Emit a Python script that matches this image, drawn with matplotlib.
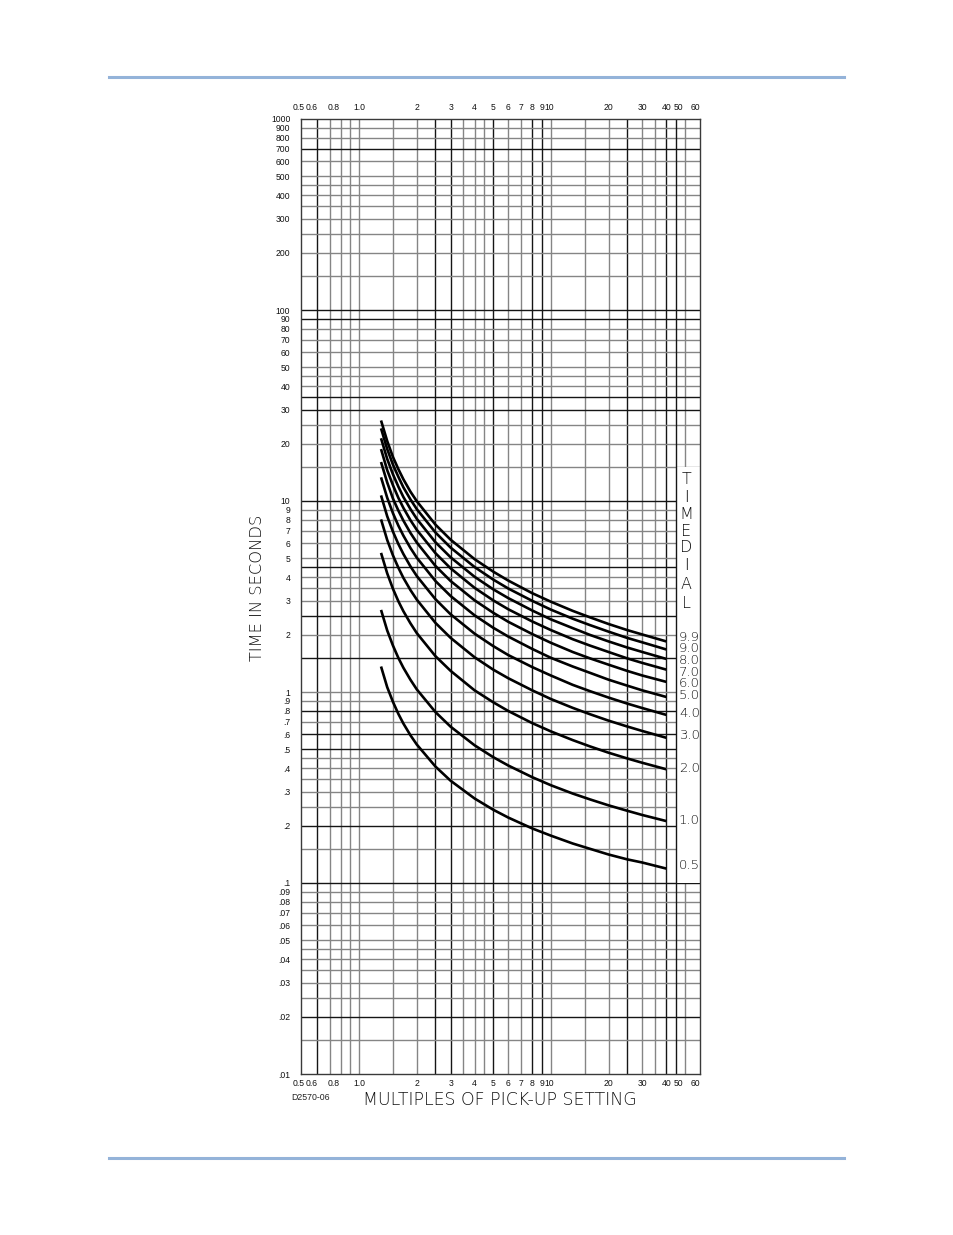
import matplotlib
matplotlib.use("Agg")
import matplotlib.pyplot as plt
from matplotlib.patches import Rectangle
from matplotlib.lines import Line2D
from matplotlib.transforms import offset_copy
from matplotlib.ticker import NullLocator

# ---------------- data ----------------
multiples = [1.3, 1.4, 1.5, 1.6, 1.7, 1.85, 2, 2.5, 3, 4, 5, 6, 8, 10, 13, 16, 20, 25, 30, 40]

td_9_9 = [26.4, 20.6, 17.0, 14.7, 13.0, 11.2, 9.96, 7.52, 6.27, 4.96, 4.27, 3.83, 3.29, 2.97, 2.66, 2.46, 2.27, 2.11, 2.00, 1.84]
td_9_0 = [24.0, 18.7, 15.5, 13.4, 11.8, 10.2, 9.05, 6.84, 5.70, 4.51, 3.88, 3.48, 3.00, 2.70, 2.42, 2.24, 2.07, 1.92, 1.82, 1.67]
td_8_0 = [21.3, 16.6, 13.8, 11.9, 10.5, 9.08, 8.05, 6.08, 5.07, 4.01, 3.45, 3.10, 2.67, 2.40, 2.16, 1.99, 1.84, 1.71, 1.62, 1.49]
td_7_0 = [18.7, 14.5, 12.1, 10.4, 9.21, 7.94, 7.05, 5.33, 4.44, 3.51, 3.02, 2.71, 2.34, 2.11, 1.89, 1.75, 1.62, 1.50, 1.42, 1.31]
td_6_0 = [16.0, 12.5, 10.3, 8.92, 7.90, 6.81, 6.05, 4.57, 3.81, 3.02, 2.60, 2.33, 2.01, 1.81, 1.62, 1.50, 1.39, 1.29, 1.22, 1.13]
td_5_0 = [13.3, 10.4, 8.63, 7.44, 6.59, 5.68, 5.04, 3.81, 3.18, 2.52, 2.17, 1.95, 1.68, 1.51, 1.36, 1.26, 1.16, 1.08, 1.02, 0.942]
td_4_0 = [10.7, 8.32, 6.91, 5.96, 5.28, 4.55, 4.04, 3.06, 2.55, 2.02, 1.74, 1.56, 1.35, 1.22, 1.09, 1.01, 0.935, 0.870, 0.824, 0.759]
td_3_0 = [8.01, 6.25, 5.19, 4.48, 3.96, 3.42, 3.04, 2.30, 1.92, 1.52, 1.31, 1.18, 1.02, 0.919, 0.826, 0.765, 0.708, 0.660, 0.625, 0.576]
td_2_0 = [5.35, 4.18, 3.47, 2.99, 2.65, 2.29, 2.03, 1.54, 1.29, 1.02, 0.884, 0.795, 0.687, 0.622, 0.560, 0.519, 0.481, 0.449, 0.426, 0.394]
td_1_0 = [2.69, 2.10, 1.75, 1.51, 1.34, 1.16, 1.03, 0.785, 0.658, 0.526, 0.456, 0.412, 0.358, 0.325, 0.294, 0.274, 0.255, 0.239, 0.227, 0.211]
td_0_5 = [1.36, 1.06, 0.888, 0.769, 0.684, 0.594, 0.530, 0.407, 0.343, 0.277, 0.242, 0.220, 0.193, 0.177, 0.161, 0.151, 0.141, 0.133, 0.128, 0.119]

curves = [td_9_9, td_9_0, td_8_0, td_7_0, td_6_0, td_5_0, td_4_0, td_3_0, td_2_0, td_1_0, td_0_5]
dial_labels = ["9.9", "9.0", "8.0", "7.0", "6.0", "5.0", "4.0", "3.0", "2.0", "1.0", "0.5"]

x_tick_values = [0.5, 0.6, 0.8, 1.0, 2, 3, 4, 5, 6, 7, 8, 9, 10, 20, 30, 40, 50, 60]
x_tick_labels = ["0.5", "0.6", "0.8", "1.0", "2", "3", "4", "5", "6", "7", "8", "9", "10",
                 "20", "30", "40", "50", "60"]

y_tick_values = [1000, 900, 800, 700, 600, 500, 400, 300, 200,
                 100, 90, 80, 70, 60, 50, 40, 30, 20,
                 10, 9, 8, 7, 6, 5, 4, 3, 2,
                 1, 0.9, 0.8, 0.7, 0.6, 0.5, 0.4, 0.3, 0.2,
                 0.1, 0.09, 0.08, 0.07, 0.06, 0.05, 0.04, 0.03, 0.02, 0.01]
y_tick_labels = ["1000", "900", "800", "700", "600", "500", "400", "300", "200",
                 "100", "90", "80", "70", "60", "50", "40", "30", "20",
                 "10", "9", "8", "7", "6", "5", "4", "3", "2",
                 "1", ".9", ".8", ".7", ".6", ".5", ".4", ".3", ".2",
                 ".1", ".09", ".08", ".07", ".06", ".05", ".04", ".03", ".02", ".01"]

grid_x = [0.6, 0.7, 0.8, 0.9, 1.0, 1.5, 2, 2.5, 3, 3.5, 4, 4.5, 5, 6, 7, 8, 9, 10,
          15, 20, 25, 30, 35, 40, 45, 50]
grid_mantissa = [1, 1.5, 2, 2.5, 3, 3.5, 4, 4.5, 5, 6, 7, 8, 9]
grid_decades = [0.01, 0.1, 1, 10, 100]

# ---------------- styling ----------------
W, H = 954, 1235
fig = plt.figure(figsize=(W / 100, H / 100), dpi=100)
fig.patch.set_facecolor("white")

left_px, right_px, top_px, bottom_px = 301.5, 700.0, 119.0, 1074.0
ax = fig.add_axes([left_px / W, 1 - bottom_px / H, (right_px - left_px) / W, (bottom_px - top_px) / H])
ax.set_xscale("log")
ax.set_yscale("log")
ax.set_xlim(0.5, 60)
ax.set_ylim(0.01, 1000)
ax.xaxis.set_minor_locator(NullLocator())
ax.yaxis.set_minor_locator(NullLocator())

GRAY = "#858585"
DARK = "#151515"
dark_x = {0.6, 2.5, 3, 5, 8, 9, 25, 40, 45}
dark_y = {700, 100, 90, 35, 30, 10, 4.5, 2.5, 1.5, 0.8, 0.6, 0.5, 0.2, 0.1, 0.02}

for v in grid_x:
    c = DARK if v in dark_x else GRAY
    z = 2.5 if v == 45 else 1
    ax.axvline(v, color=c, lw=1.0, zorder=z)

for d in grid_decades:
    for m in grid_mantissa:
        v = round(m * d, 6)
        if v <= 0.01:
            continue
        c = DARK if v in dark_y else GRAY
        ax.axhline(v, color=c, lw=1.0, zorder=1)

# white panel behind the dial labels
ax.add_patch(Rectangle((45, 0.1), 15, 14.9, facecolor="white", edgecolor="none", zorder=2))

for s in ax.spines.values():
    s.set_color("#3a3a3a")
    s.set_linewidth(1.0)
    s.set_zorder(5)

# curves
for vals in curves:
    ax.plot(multiples, vals, color="black", lw=1.9, solid_capstyle="butt", zorder=4)

TICK_FONT = dict(fontfamily="Liberation Sans", fontsize=6.2, color="#111111")

# y tick labels
ax.set_yticks(y_tick_values)
ax.set_yticklabels(y_tick_labels, **TICK_FONT)
ax.tick_params(axis="y", length=0, pad=8)
ax.set_xticks([])

# x tick labels (top and bottom)
x_offsets = {0.5: -2.5, 0.6: -5, 0.8: -7, 10: -2, 50: -6, 60: -5}
for v, s in zip(x_tick_values, x_tick_labels):
    dx = x_offsets.get(v, 0)
    ttop = offset_copy(ax.get_xaxis_transform(), fig=fig, x=dx, y=12, units="dots")
    tbot = offset_copy(ax.get_xaxis_transform(), fig=fig, x=dx, y=-10, units="dots")
    ax.text(v, 1.0, s, transform=ttop, ha="center", va="center", clip_on=False, **TICK_FONT)
    ax.text(v, 0.0, s, transform=tbot, ha="center", va="center", clip_on=False, **TICK_FONT)

TITLE_FONT = dict(fontfamily="DejaVu Sans", fontweight=200, color="#111111")

# dial labels
dial_label_y = [1.94, 1.69, 1.47, 1.27, 1.11, 0.965, 0.776, 0.592, 0.402, 0.214, 0.124]
for s, y in zip(dial_labels, dial_label_y):
    ax.text(46.6, y, s, ha="left", va="center", fontsize=9.5, zorder=6, **TITLE_FONT)

# vertical "TIME DIAL"
for ch, py in zip("TIMEDIAL", [479, 497, 514, 531, 548, 566, 585, 603]):
    fig.text(686.5 / W, 1 - py / H, ch, ha="center", va="center", fontsize=11.5, **TITLE_FONT)

# axis titles
fig.text(500 / W, 1 - 1100 / H, "MULTIPLES OF PICK-UP SETTING", ha="center", va="center",
         fontsize=12.5, **TITLE_FONT)
fig.text(258 / W, 1 - 588 / H, "TIME IN SECONDS", ha="center", va="center", rotation=90,
         fontsize=11.7, **TITLE_FONT)
fig.text(311 / W, 1 - 1098 / H, "D2570-06", ha="center", va="center",
         fontfamily="Liberation Sans", fontsize=6.3, color="#222222")

# page rules
for py in (77, 1158):
    fig.add_artist(Line2D([109 / W, 844 / W], [1 - py / H, 1 - py / H], color="#94b3d9", lw=2.2))

fig.savefig("out.png", dpi=100, facecolor="white")
